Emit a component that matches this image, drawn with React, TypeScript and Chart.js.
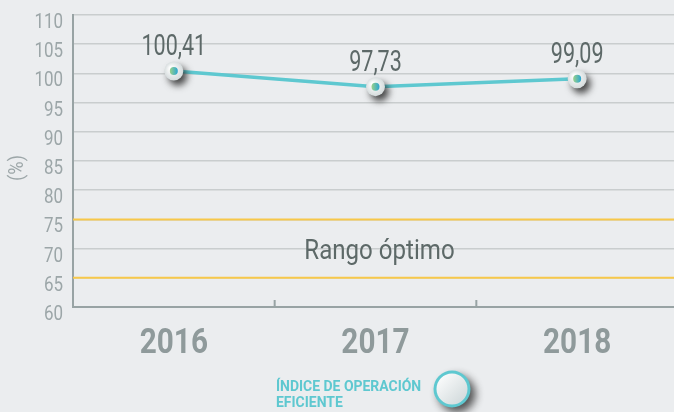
import React, { useEffect, useRef } from "react";
import { Chart, registerables } from "chart.js";

Chart.register(...registerables);

const years = ["2016", "2017", "2018"];
const indice = [100.41, 97.73, 99.09];
const valueLabels = ["100,41", "97,73", "99,09"];
const rangeLow = 65;
const rangeHigh = 75;
const rangeLabel = "Rango óptimo";
const yTitle = "(%)";
const legendLines = ["ÍNDICE DE OPERACIÓN", "EFICIENTE"];

const FONT = "'Roboto', sans-serif";
const TEAL = "#5ec8d0";
const GRAY_TXT = "#9ca6a8";
const DARK_TXT = "#5d6968";
const YEAR_TXT = "#8f9a9b";
const YELLOW = "#f7c84a";
const BG = "#ebedef";

function drawText(
  ctx: CanvasRenderingContext2D,
  text: string,
  x: number,
  y: number,
  font: string,
  color: string,
  sx: number,
  align: CanvasTextAlign,
  baseline: CanvasTextBaseline = "alphabetic",
  rotate = 0
) {
  ctx.save();
  ctx.translate(x, y);
  if (rotate) ctx.rotate(rotate);
  ctx.scale(sx, 1);
  ctx.font = font;
  ctx.fillStyle = color;
  ctx.textAlign = align;
  ctx.textBaseline = baseline;
  ctx.fillText(text, 0, 0);
  ctx.restore();
}

const overlay = {
  id: "overlay",
  beforeDatasetsDraw(chart: any) {
    const { ctx, chartArea } = chart;
    const y = chart.scales.y;
    const x = chart.scales.x;
    ctx.save();
    ctx.strokeStyle = YELLOW;
    ctx.lineWidth = 2;
    [rangeLow, rangeHigh].forEach((v) => {
      const py = y.getPixelForValue(v);
      ctx.beginPath();
      ctx.moveTo(chartArea.left, py);
      ctx.lineTo(chartArea.right, py);
      ctx.stroke();
    });
    drawText(
      ctx,
      rangeLabel,
      x.getPixelForValue(1) + 4,
      y.getPixelForValue((rangeLow + rangeHigh) / 2) + 10,
      `28px ${FONT}`,
      DARK_TXT,
      0.86,
      "center"
    );
    // inward tick marks between categories
    ctx.strokeStyle = "#98a3a4";
    ctx.lineWidth = 2;
    for (let i = 1; i < years.length; i++) {
      const px = (x.getPixelForValue(i - 1) + x.getPixelForValue(i)) / 2;
      ctx.beginPath();
      ctx.moveTo(px, chartArea.bottom);
      ctx.lineTo(px, chartArea.bottom - 7);
      ctx.stroke();
    }
    // y tick labels
    y.ticks.forEach((t: any) => {
      const py = y.getPixelForValue(t.value);
      drawText(ctx, String(t.value), 63, py + 13, `19.5px ${FONT}`, GRAY_TXT, 0.87, "right");
    });
    // x tick labels
    years.forEach((lab, i) => {
      drawText(ctx, lab, x.getPixelForValue(i), 353, `bold 35px ${FONT}`, YEAR_TXT, 0.85, "center");
    });
    // y title
    drawText(ctx, yTitle, 18, 168, `21px ${FONT}`, GRAY_TXT, 0.87, "center", "middle", -Math.PI / 2);
    ctx.restore();
  },
  afterDatasetsDraw(chart: any) {
    const { ctx } = chart;
    const meta = chart.getDatasetMeta(0);
    ctx.save();
    meta.data.forEach((pt: any, i: number) => {
      const { x, y } = pt;
      ctx.save();
      ctx.shadowColor = "rgba(30,30,30,0.8)";
      ctx.shadowBlur = 7;
      ctx.shadowOffsetX = 4;
      ctx.shadowOffsetY = 5;
      const g = ctx.createRadialGradient(x - 3, y - 3, 1, x, y, 10);
      g.addColorStop(0, "#ffffff");
      g.addColorStop(1, "#d3dadb");
      ctx.fillStyle = g;
      ctx.beginPath();
      ctx.arc(x, y, 9.5, 0, Math.PI * 2);
      ctx.fill();
      ctx.restore();
      const g2 = ctx.createLinearGradient(x - 4, y, x + 4, y);
      g2.addColorStop(0, "#9ad18a");
      g2.addColorStop(1, "#2aa6d2");
      ctx.fillStyle = g2;
      ctx.beginPath();
      ctx.arc(x, y, 4, 0, Math.PI * 2);
      ctx.fill();
      drawText(ctx, valueLabels[i], x, y - 16, `29.5px ${FONT}`, DARK_TXT, 0.73, "center");
    });
    // legend
    drawText(ctx, legendLines[0], 276, 390.5, `bold 15.5px ${FONT}`, TEAL, 0.9, "left");
    drawText(ctx, legendLines[1], 276, 406.5, `bold 15.5px ${FONT}`, TEAL, 0.9, "left");
    const cx = 452, cy = 389;
    ctx.save();
    ctx.shadowColor = "rgba(30,30,30,0.75)";
    ctx.shadowBlur = 8;
    ctx.shadowOffsetX = 5;
    ctx.shadowOffsetY = 5;
    ctx.fillStyle = TEAL;
    ctx.beginPath();
    ctx.arc(cx, cy, 18.5, 0, Math.PI * 2);
    ctx.fill();
    ctx.restore();
    const g3 = ctx.createLinearGradient(cx - 15, cy - 15, cx + 15, cy + 15);
    g3.addColorStop(0, "#ffffff");
    g3.addColorStop(1, "#cdd6d8");
    ctx.fillStyle = g3;
    ctx.beginPath();
    ctx.arc(cx, cy, 15.5, 0, Math.PI * 2);
    ctx.fill();
    ctx.restore();
  },
};

export default function App() {
  const ref = useRef<HTMLCanvasElement>(null);
  useEffect(() => {
    document.body.style.margin = "0";
    document.body.style.background = BG;
    const chart = new Chart(ref.current!, {
      type: "line",
      data: {
        labels: years,
        datasets: [
          {
            label: legendLines.join(" "),
            data: indice,
            borderColor: TEAL,
            borderWidth: 3.5,
            pointRadius: 0,
            tension: 0,
          },
        ],
      },
      plugins: [overlay],
      options: {
        animation: false,
        responsive: false,
        devicePixelRatio: 1,
        layout: { padding: { top: 15, left: 0, right: 0, bottom: 0 } },
        plugins: { legend: { display: false }, tooltip: { enabled: false } },
        scales: {
          x: {
            type: "category",
            offset: true,
            grid: { display: false },
            border: { display: true, color: "#98a3a4", width: 2 },
            ticks: { display: false },
            afterFit: (s: any) => {
              s.height = 105;
            },
          },
          y: {
            min: 60,
            max: 110,
            ticks: { stepSize: 5, display: false },
            grid: {
              color: "#c9cdce",
              lineWidth: 1.5,
              drawTicks: false,
            },
            border: { display: true, color: "#98a3a4", width: 2 },
            afterFit: (s: any) => {
              s.width = 73;
            },
          },
        },
      },
    });
    return () => chart.destroy();
  }, []);
  return (
    <div style={{ position: "fixed", left: 0, top: 0, width: 674, height: 412, overflow: "hidden", background: BG }}>
      <canvas ref={ref} width={678} height={412} style={{ display: "block" }} />
    </div>
  );
}
